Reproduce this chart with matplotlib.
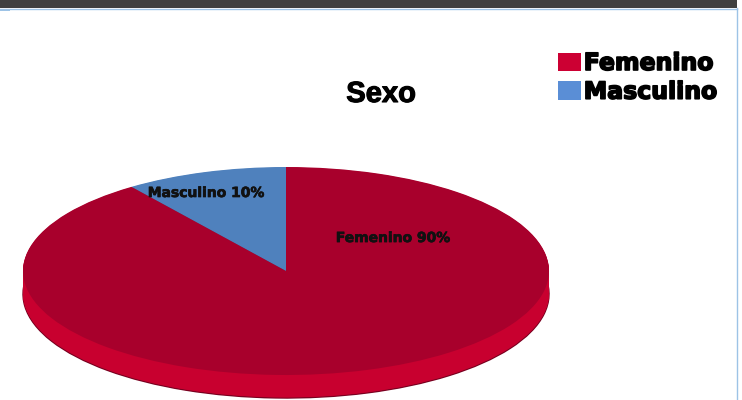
import numpy as np
import matplotlib.pyplot as plt
import matplotlib.patheffects as pe
from matplotlib.patches import Patch, Rectangle

# datos
categorias = ["Masculino", "Femenino"]
porcentajes = [10, 90]
orden_leyenda = ["Femenino", "Masculino"]

color_top = {"Masculino": "#4F81BD", "Femenino": "#A8002C"}
color_lado = {"Masculino": "#3A6699", "Femenino": "#C8002F"}
color_leyenda = {"Masculino": "#5A8ED6", "Femenino": "#CC0033"}

W, H = 742, 400
fig = plt.figure(figsize=(W / 100, H / 100), dpi=100)

# fondo: barra superior y bordes
bg = fig.add_axes([0, 0, 1, 1])
bg.set_xlim(0, W)
bg.set_ylim(H, 0)
bg.axis("off")
bg.add_patch(Rectangle((0, 0), 737, 8, color="#404040", lw=0))
bg.plot([0, 737], [8.5, 8.5], color="#9DC3E6", lw=1)
bg.add_patch(Rectangle((0, 9), 10, 1.5, color="#9DC3E6", lw=0))
bg.plot([736.5, 736.5], [8, H], color="#9DC3E6", lw=1)

# pastel 3D (elipse con grosor)
cx, cy, rx, ry = 286, 271, 263, 104
prof = 23 / ry
xl = (-1.05, 1.05)
yl = (-1.3, 1.05)
left = cx + xl[0] * rx
top = cy - yl[1] * ry
ancho = (xl[1] - xl[0]) * rx
alto = (yl[1] - yl[0]) * ry
ax = fig.add_axes([left / W, (H - top - alto) / H, ancho / W, alto / H])

lados = [color_lado[c] for c in categorias]
tops = [color_top[c] for c in categorias]

offs = np.linspace(-prof, 0, 40)[:-1]
ax.pie(porcentajes, colors=lados, startangle=90, counterclock=True,
       center=(0, offs[0]), wedgeprops=dict(linewidth=1.0, edgecolor="#7a0020"))
for o in offs[1:]:
    ax.pie(porcentajes, colors=lados, startangle=90, counterclock=True,
           center=(0, o), wedgeprops=dict(linewidth=0))
ax.pie(porcentajes, colors=tops, startangle=90, counterclock=True,
       wedgeprops=dict(linewidth=0))

ax.set_aspect("auto")
ax.set_xlim(*xl)
ax.set_ylim(*yl)
ax.axis("off")

grueso = [pe.withStroke(linewidth=0.5, foreground="#111111")]

# etiquetas de los sectores
pos_etiquetas = {"Masculino": (-0.304, 0.75), "Femenino": (0.407, 0.317)}
for c, p in zip(categorias, porcentajes):
    x, y = pos_etiquetas[c]
    ax.text(x, y, f"{c} {p}%", ha="center", va="center", fontsize=10,
            fontweight="bold", color="#111111", family="DejaVu Sans",
            path_effects=grueso)

# título
fig.text(381 / W, 1 - 94 / H, "Sexo", ha="center", va="center",
         fontsize=21, fontweight="bold", family=["Liberation Sans", "DejaVu Sans"],
         path_effects=[pe.withStroke(linewidth=0.8, foreground="black")])

# leyenda
handles = [Patch(facecolor=color_leyenda[c], edgecolor="none") for c in orden_leyenda]
leg = fig.legend(handles, orden_leyenda, loc="upper left",
                 bbox_to_anchor=(558 / W, 1 - 51 / H), frameon=False,
                 prop=dict(family="DejaVu Sans", weight="bold", size=17),
                 handlelength=0.97, handleheight=0.8, handletextpad=0.12,
                 labelspacing=0.2, borderpad=0, borderaxespad=0)
for t in leg.get_texts():
    t.set_path_effects([pe.withStroke(linewidth=1.2, foreground="black")])

fig.savefig("out.png", dpi=100)
